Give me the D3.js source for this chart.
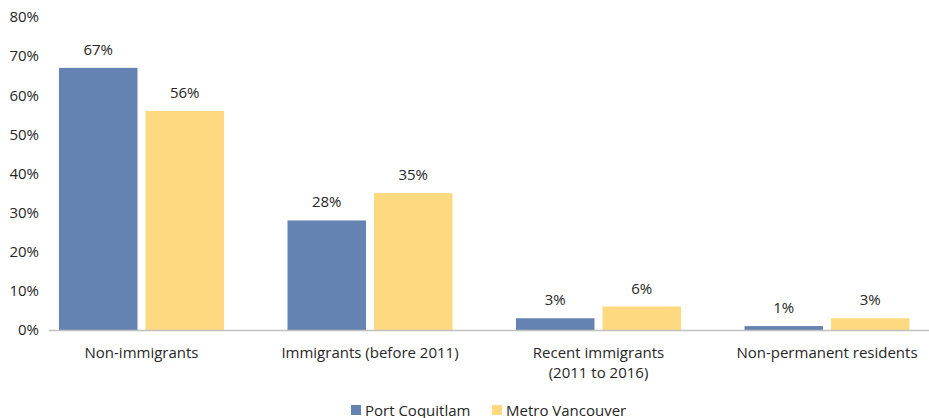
<!DOCTYPE html>
<html>
<head>
<meta charset="utf-8">
<script src="https://cdn.jsdelivr.net/npm/d3@7"></script>
<style>
  html, body { margin: 0; padding: 0; background: #fff; }
  svg { display: block; font-family: "Open Sans", "Liberation Sans", sans-serif; }
</style>
</head>
<body>
<svg id="chart" width="929" height="418"></svg>
<script>
// Population by immigrant status, 2016
const categories = [
  ["Non-immigrants"],
  ["Immigrants (before 2011)"],
  ["Recent immigrants", "(2011 to 2016)"],
  ["Non-permanent residents"]
];
const seriesNames = ["Port Coquitlam", "Metro Vancouver"];
const portCoquitlam = [67, 28, 3, 1];
const metroVancouver = [56, 35, 6, 3];
const yTicks = [0, 10, 20, 30, 40, 50, 60, 70, 80];

const colors = { "Port Coquitlam": "#6483b2", "Metro Vancouver": "#ffd980" };
const textColor = "#262626";
const fontSize = "15px";

const svg = d3.select("#chart");
const W = 929, H = 418;

const catKeys = categories.map(c => c.join(" "));
const rows = catKeys.map((k, i) => ({
  key: k,
  lines: categories[i],
  values: [
    { series: seriesNames[0], value: portCoquitlam[i] },
    { series: seriesNames[1], value: metroVancouver[i] }
  ]
}));

const x0 = d3.scaleBand()
  .domain(catKeys)
  .range([27.25, 941.25])
  .paddingInner(0.278)
  .paddingOuter(0.139);

const x1 = d3.scaleBand()
  .domain(seriesNames)
  .range([0, x0.bandwidth()])
  .paddingInner(0.0925)
  .paddingOuter(0);

const y = d3.scaleLinear().domain([0, 80]).range([330, 17]);

// y axis labels (no axis line, no gridlines)
const yAxis = d3.axisLeft(y)
  .tickValues(yTicks)
  .tickSize(0)
  .tickPadding(0)
  .tickFormat(d => d + "%");
const yg = svg.append("g").attr("transform", "translate(39,0)").call(yAxis);
yg.select(".domain").remove();
yg.selectAll("text")
  .attr("fill", textColor)
  .style("font-size", fontSize)
  .style("font-family", "\"Open Sans\", sans-serif");

// bars
const groups = svg.append("g").selectAll("g")
  .data(rows)
  .join("g")
  .attr("transform", d => `translate(${x0(d.key)},0)`);

groups.selectAll("rect")
  .data(d => d.values)
  .join("rect")
  .attr("x", d => x1(d.series))
  .attr("width", x1.bandwidth())
  .attr("y", d => y(d.value))
  .attr("height", d => y(0) - y(d.value))
  .attr("fill", d => colors[d.series]);

// value labels
groups.selectAll("text.val")
  .data(d => d.values)
  .join("text")
  .attr("class", "val")
  .attr("x", d => x1(d.series) + x1.bandwidth() / 2)
  .attr("y", d => y(d.value) - 13)
  .attr("text-anchor", "middle")
  .attr("fill", textColor)
  .style("font-size", fontSize)
  .text(d => d.value + "%");

// x axis line
svg.append("line")
  .attr("x1", 49).attr("x2", W)
  .attr("y1", y(0) + 0.5).attr("y2", y(0) + 0.5)
  .attr("stroke", "#bfbfbf")
  .attr("stroke-width", 1.5);

// category labels
const catText = svg.append("g").selectAll("text")
  .data(rows)
  .join("text")
  .attr("x", d => x0(d.key) + x0.bandwidth() / 2)
  .attr("y", 358)
  .attr("text-anchor", "middle")
  .attr("fill", textColor)
  .style("font-size", fontSize);
catText.selectAll("tspan")
  .data(d => d.lines.map((l, i) => ({ l, i, cx: x0(d.key) + x0.bandwidth() / 2 })))
  .join("tspan")
  .attr("x", d => d.cx)
  .attr("dy", d => d.i === 0 ? 0 : 20)
  .text(d => d.l);

// legend
const legendItems = [
  { name: seriesNames[0], x: 351 },
  { name: seriesNames[1], x: 492 }
];
const lg = svg.append("g").selectAll("g")
  .data(legendItems)
  .join("g")
  .attr("transform", d => `translate(${d.x},405)`);
lg.append("rect")
  .attr("width", 10).attr("height", 10)
  .attr("fill", d => colors[d.name]);
lg.append("text")
  .attr("x", 14)
  .attr("y", 10.5)
  .attr("fill", textColor)
  .style("font-size", fontSize)
  .text(d => d.name);
</script>
</body>
</html>
